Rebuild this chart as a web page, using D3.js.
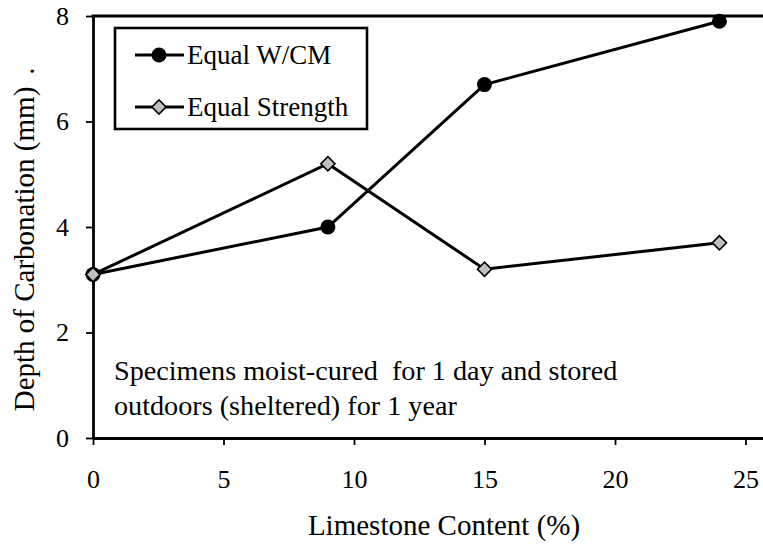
<!DOCTYPE html>
<html>
<head>
<meta charset="utf-8">
<script src="https://cdn.jsdelivr.net/npm/d3@7"></script>
<style>
  html, body { margin: 0; padding: 0; background: #fff; }
  svg { display: block; font-family: "Liberation Serif", "Times New Roman", serif; }
</style>
</head>
<body>
<svg id="chart" width="763" height="544"></svg>
<script>
// Limestone content (%) of each mix
const limestone = [0, 9, 15, 24];
// Depth of carbonation (mm) for each series
const equalWCM = [3.1, 4.0, 6.7, 7.9];
const equalStrength = [3.1, 5.2, 3.2, 3.7];
const seriesNames = ["Equal W/CM", "Equal Strength"];
const xTicks = [0, 5, 10, 15, 20, 25];
const yTicks = [0, 2, 4, 6, 8];
const noteLines = ["Specimens moist-cured  for 1 day and stored", "outdoors (sheltered) for 1 year"];

const svg = d3.select("#chart");
const plotLeft = 93, plotRight = 763, plotTop = 16, plotBottom = 438;

const x = d3.scaleLinear().domain([0, 25.67]).range([plotLeft, plotRight]);
const y = d3.scaleLinear().domain([0, 8]).range([plotBottom, plotTop]);

// Axes with outward ticks
const xAxis = svg.append("g").attr("transform", `translate(0,${plotBottom})`)
  .call(d3.axisBottom(x).tickValues(xTicks).tickSize(7).tickSizeOuter(0).tickPadding(25).tickFormat(d3.format("d")));
const yAxis = svg.append("g").attr("transform", `translate(${plotLeft},0)`)
  .call(d3.axisLeft(y).tickValues(yTicks).tickSize(7).tickSizeOuter(0).tickPadding(17).tickFormat(d3.format("d")));

[xAxis, yAxis].forEach(g => {
  g.select(".domain").attr("stroke", "#000").attr("stroke-width", 2.8);
  g.selectAll(".tick line").attr("stroke", "#000").attr("stroke-width", 1.8);
  g.selectAll(".tick text").attr("fill", "#000")
    .style("font-family", "'Liberation Serif', serif").style("font-size", "26px");
});
xAxis.selectAll(".tick text").attr("dy", "0.71em");

// Top frame line
svg.append("line")
  .attr("x1", x(0) - 1.4).attr("x2", plotRight)
  .attr("y1", y(8)).attr("y2", y(8))
  .attr("stroke", "#000").attr("stroke-width", 2.8);

// Axis titles
svg.append("text")
  .attr("x", 444).attr("y", 535)
  .attr("text-anchor", "middle")
  .style("font-size", "29px")
  .text("Limestone Content (%)");

svg.append("text")
  .attr("transform", "translate(34,249) rotate(-90)")
  .attr("text-anchor", "middle")
  .style("font-size", "29px")
  .text("Depth of Carbonation (mm)");
svg.append("text")
  .attr("transform", "translate(34,71) rotate(-90)")
  .attr("text-anchor", "middle")
  .style("font-size", "29px")
  .text(".");

// Note inside the plot
svg.append("text")
  .attr("x", 114).attr("y", 380)
  .style("font-size", "28.2px")
  .style("white-space", "pre")
  .selectAll("tspan").data(noteLines).join("tspan")
  .attr("x", 114).attr("dy", (d, i) => i === 0 ? 0 : 35)
  .text(d => d);

// Series lines
const line = d3.line().x(d => x(d[0])).y(d => y(d[1]));
const ptsA = limestone.map((v, i) => [v, equalWCM[i]]);
const ptsB = limestone.map((v, i) => [v, equalStrength[i]]);

svg.append("path").datum(ptsB).attr("d", line)
  .attr("fill", "none").attr("stroke", "#000").attr("stroke-width", 3);
svg.append("path").datum(ptsA).attr("d", line)
  .attr("fill", "none").attr("stroke", "#000").attr("stroke-width", 3);

const diamond = d3.symbol().type(d3.symbolSquare).size(100);
function drawCircle(g, cx, cy) {
  g.append("circle").attr("cx", cx).attr("cy", cy).attr("r", 7.5).attr("fill", "#000");
}
function drawDiamond(g, cx, cy) {
  g.append("path").attr("d", diamond())
    .attr("transform", `translate(${cx},${cy}) rotate(45)`)
    .attr("fill", "#c0c0c0").attr("stroke", "#000").attr("stroke-width", 1.6);
}

const markers = svg.append("g");
ptsA.forEach(p => drawCircle(markers, x(p[0]), y(p[1])));
ptsB.forEach(p => drawDiamond(markers, x(p[0]), y(p[1])));

// Legend
const legend = svg.append("g");
legend.append("rect")
  .attr("x", 115).attr("y", 28).attr("width", 252).attr("height", 101)
  .attr("fill", "#fff").attr("stroke", "#000").attr("stroke-width", 2.6);
const rows = [55, 107];
seriesNames.forEach((name, i) => {
  const ry = rows[i];
  legend.append("line").attr("x1", 135).attr("x2", 184).attr("y1", ry).attr("y2", ry)
    .attr("stroke", "#000").attr("stroke-width", 3);
  if (i === 0) drawCircle(legend, 159, ry); else drawDiamond(legend, 159, ry);
  legend.append("text").attr("x", 187).attr("y", ry).attr("dy", "0.33em")
    .style("font-size", "27px").text(name);
});
</script>
</body>
</html>
